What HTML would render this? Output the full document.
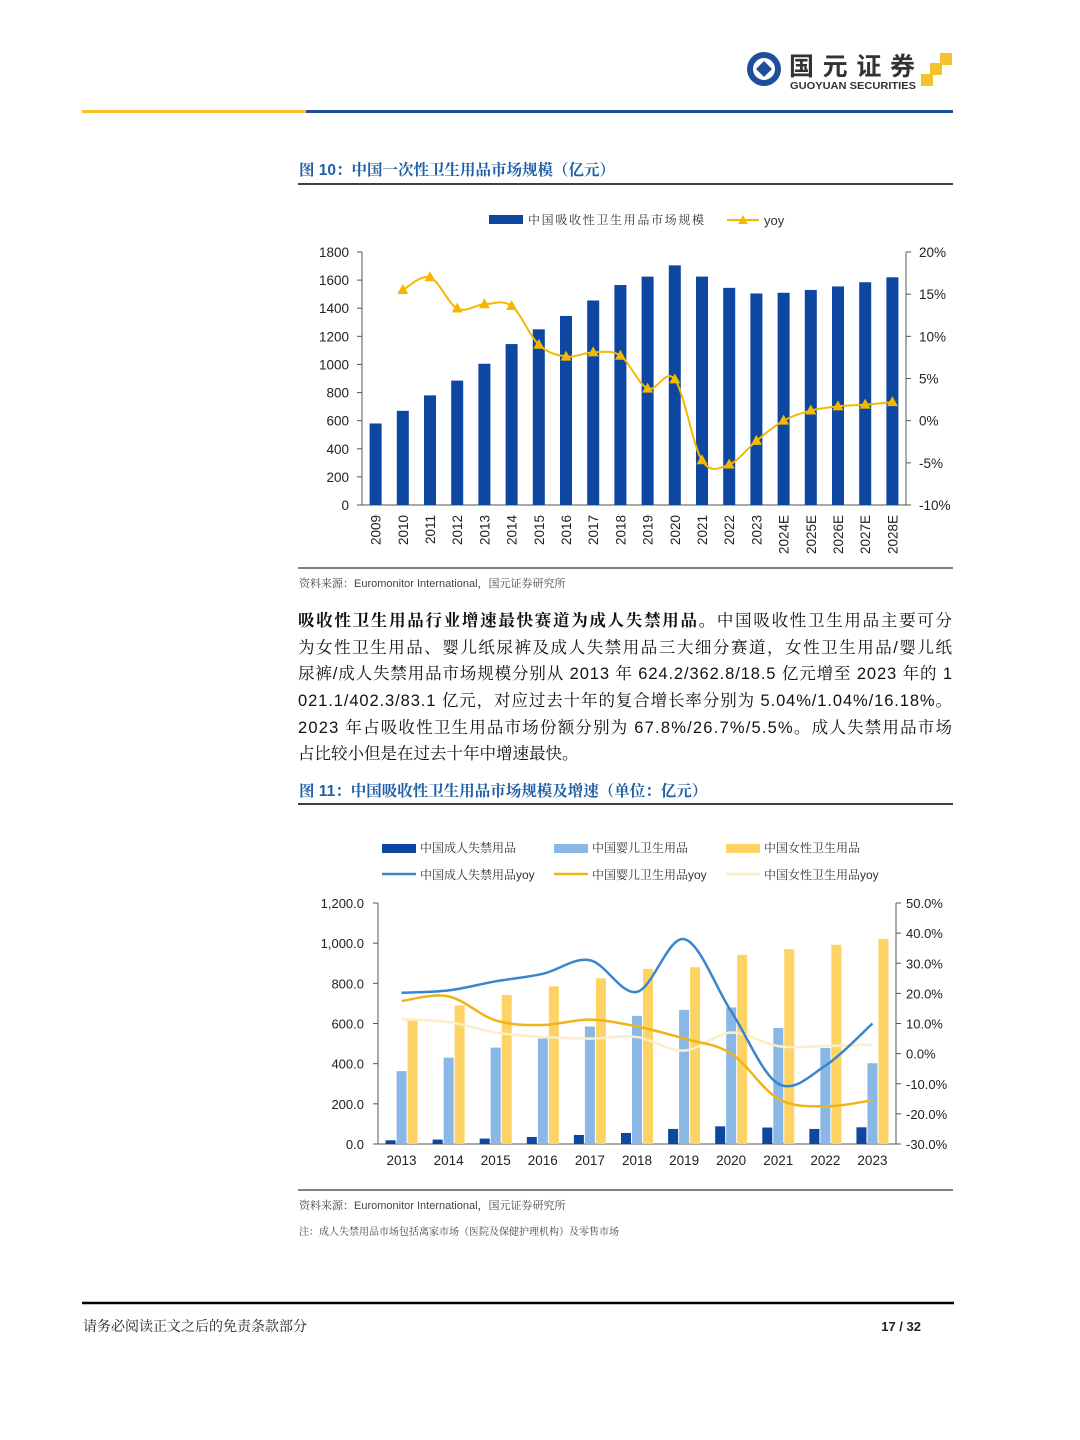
<!DOCTYPE html>
<html><head><meta charset="utf-8">
<style>
html,body{margin:0;padding:0;background:#fff;}
svg{display:block;font-family:"Liberation Sans","Noto Sans CJK SC",sans-serif;}
.cn{font-family:"Liberation Sans","Noto Serif CJK SC",serif;}
</style></head>
<body>
<svg id="s" width="1080" height="1440" viewBox="0 0 1080 1440" xmlns="http://www.w3.org/2000/svg">
  <g>
    <circle cx="764" cy="69" r="17" fill="#1f4e9c"/>
    <circle cx="764" cy="69" r="11" fill="#fff"/>
    <path d="M756 69 L764 61 L772 69 L764 77 Z" fill="#1f4e9c"/>
    <text x="789" y="75" font-size="25" font-weight="bold" fill="#333" font-family="Noto Sans CJK SC,sans-serif" textLength="126" lengthAdjust="spacing">国元证券</text>
    <text x="790" y="89" font-size="10.5" font-weight="bold" fill="#333" textLength="126" lengthAdjust="spacingAndGlyphs">GUOYUAN SECURITIES</text>
    <rect x="940" y="53" width="12" height="12" fill="#f5c22e"/>
    <rect x="930" y="63" width="12" height="12" fill="#f5c22e"/>
    <rect x="921" y="74" width="12" height="12" fill="#f5c22e"/>
  </g>
  <rect x="82" y="110" width="224" height="3" fill="#f5c22e"/>
  <rect x="306" y="110" width="647" height="3" fill="#1f4e9c"/>

  <text x="299" y="175" font-size="15.5" font-weight="bold" fill="#1f5fa6" class="cn">图 10：中国一次性卫生用品市场规模（亿元）</text>
  <line x1="298" y1="184" x2="953" y2="184" stroke="#000" stroke-width="1.5"/>
  <g id="c1"></g>
  <line x1="298" y1="568" x2="953" y2="568" stroke="#000" stroke-width="1"/>
  <text x="299" y="587" font-size="11" fill="#444" class="cn">资料来源：Euromonitor International，国元证券研究所</text>

  <g font-size="16.5" fill="#111" class="cn">
    <text x="298" y="626" textLength="654" lengthAdjust="spacing"><tspan font-weight="bold">吸收性卫生用品行业增速最快赛道为成人失禁用品。</tspan>中国吸收性卫生用品主要可分</text>
    <text x="298" y="653" textLength="654" lengthAdjust="spacing">为女性卫生用品、婴儿纸尿裤及成人失禁用品三大细分赛道，女性卫生用品/婴儿纸</text>
    <text x="298" y="679" textLength="654" lengthAdjust="spacing">尿裤/成人失禁用品市场规模分别从 2013 年 624.2/362.8/18.5 亿元增至 2023 年的 1</text>
    <text x="298" y="706" textLength="654" lengthAdjust="spacing">021.1/402.3/83.1 亿元，对应过去十年的复合增长率分别为 5.04%/1.04%/16.18%。</text>
    <text x="298" y="733" textLength="654" lengthAdjust="spacing">2023 年占吸收性卫生用品市场份额分别为 67.8%/26.7%/5.5%。成人失禁用品市场</text>
    <text x="298" y="759">占比较小但是在过去十年中增速最快。</text>
  </g>

  <text x="299" y="796" font-size="15.5" font-weight="bold" fill="#1f5fa6" class="cn">图 11：中国吸收性卫生用品市场规模及增速（单位：亿元）</text>
  <line x1="298" y1="804" x2="953" y2="804" stroke="#000" stroke-width="1.5"/>
  <g id="c2"></g>
  <line x1="298" y1="1190" x2="953" y2="1190" stroke="#000" stroke-width="1"/>
  <text x="299" y="1209" font-size="11" fill="#444" class="cn">资料来源：Euromonitor International，国元证券研究所</text>
  <text x="299" y="1235" font-size="10" fill="#444" class="cn">注：成人失禁用品市场包括离家市场（医院及保健护理机构）及零售市场</text>

  <line x1="82" y1="1303" x2="954" y2="1303" stroke="#000" stroke-width="2.5"/>
  <text x="83" y="1331" font-size="14" fill="#222" class="cn">请务必阅读正文之后的免责条款部分</text>
  <text x="921" y="1331" font-size="13" font-weight="bold" fill="#222" text-anchor="end">17 / 32</text>
</svg>
<script>
const c1Years = ["2009","2010","2011","2012","2013","2014","2015","2016","2017","2018","2019","2020","2021","2022","2023","2024E","2025E","2026E","2027E","2028E"];
const c1Market = [580,670,780,885,1005,1145,1250,1345,1455,1565,1625,1705,1625,1545,1505,1510,1530,1555,1585,1620];
const c1Yoy = [null,15.5,17.0,13.3,13.8,13.6,9.0,7.6,8.1,7.7,3.8,4.9,-4.7,-5.2,-2.4,0.0,1.2,1.7,1.9,2.2];
const c1LeftTicks = [0,200,400,600,800,1000,1200,1400,1600,1800];
const c1RightTicks = [-10,-5,0,5,10,15,20];

const c2Years = ["2013","2014","2015","2016","2017","2018","2019","2020","2021","2022","2023"];
const c2Adult = [18.5,22,27,35,45,55,75,88,82,75,83.1];
const c2Baby = [362.8,430,480,525,585,638,668,680,578,478,402.3];
const c2Female = [624.2,690,742,785,825,872,880,942,970,992,1021.1];
const c2AdultYoy = [20.2,21,24,26.5,31,20.5,38,14,-10,-4,10];
const c2BabyYoy = [17.5,19,11,9.5,11.3,9,5,0,-15,-17.5,-15.5];
const c2FemaleYoy = [11.5,10.5,7,5.5,5,5.5,1,7,2.5,2.5,3];
const c2LeftTicks = [0,200,400,600,800,1000,1200];
const c2RightTicks = [-30,-20,-10,0,10,20,30,40,50];

const NS="http://www.w3.org/2000/svg";
function mk(parent,tag,attrs,text){const e=document.createElementNS(NS,tag);for(const k in attrs)e.setAttribute(k,attrs[k]);if(text!==undefined)e.textContent=text;parent.appendChild(e);return e;}
function smooth(pts){let d="M"+pts[0][0]+" "+pts[0][1];for(let i=0;i<pts.length-1;i++){const p0=pts[i-1]||pts[i],p1=pts[i],p2=pts[i+1],p3=pts[i+2]||p2;const c1x=p1[0]+(p2[0]-p0[0])/6,c1y=p1[1]+(p2[1]-p0[1])/6,c2x=p2[0]-(p3[0]-p1[0])/6,c2y=p2[1]-(p3[1]-p1[1])/6;d+=" C"+c1x+" "+c1y+" "+c2x+" "+c2y+" "+p2[0]+" "+p2[1];}return d;}

(function(){
const g=document.getElementById('c1');
const L=362,R=906,T=252,B=505;
const band=(R-L)/c1Years.length;
const x=i=>L+band*(i+0.5);
const yL=v=>B-(v-0)/(1800-0)*(B-T);
const yR=v=>B-(v+10)/(30)*(B-T);
let e=mk(g,'rect',{x:489,y:215,width:34,height:9,fill:'#0d47a1'});

e=mk(g,'text',{x:528,y:224,'font-size':12,fill:'#333','class':'cn',textLength:176,lengthAdjust:'spacing'},'中国吸收性卫生用品市场规模');

mk(g,'line',{x1:727,y1:220,x2:759,y2:220,stroke:'#f5b800','stroke-width':2});
mk(g,'path',{d:'M743 215 L748 224 L738 224 Z',fill:'#f5b800'});
e=mk(g,'text',{x:764,y:225,'font-size':13,fill:'#333'},'yoy');

mk(g,'line',{x1:L,y1:T,x2:L,y2:B,stroke:'#555'});
mk(g,'line',{x1:R,y1:T,x2:R,y2:B,stroke:'#555'});
mk(g,'line',{x1:L,y1:B,x2:R,y2:B,stroke:'#555'});
c1LeftTicks.forEach(v=>{mk(g,'line',{x1:L-5,y1:yL(v),x2:L,y2:yL(v),stroke:'#555'});
 const t=mk(g,'text',{x:349,y:yL(v)+5,'font-size':13.5,'text-anchor':'end',fill:'#222'},String(v));
 });
c1RightTicks.forEach(v=>{mk(g,'line',{x1:R,y1:yR(v),x2:R+5,y2:yR(v),stroke:'#555'});
 const t=mk(g,'text',{x:919,y:yR(v)+5,'font-size':13.5,fill:'#222'},v+'%');
 });
c1Years.forEach((yr,i)=>{
 const b=mk(g,'rect',{x:x(i)-6,y:yL(c1Market[i]),width:12,height:B-yL(c1Market[i]),fill:'#0d47a1'});
 
 const t=mk(g,'text',{x:0,y:0,'font-size':13.5,fill:'#222','text-anchor':'end',transform:'translate('+(x(i)+5)+','+(B+10)+') rotate(-90)'},yr);
 
});
const pts=[];c1Yoy.forEach((v,i)=>{if(v!==null)pts.push([x(i),yR(v)]);});
const ln=mk(g,'path',{d:smooth(pts),fill:'none',stroke:'#f5b800','stroke-width':2});

pts.forEach(p=>{const m=mk(g,'path',{d:'M'+p[0]+' '+(p[1]-6)+' L'+(p[0]+5.5)+' '+(p[1]+4)+' L'+(p[0]-5.5)+' '+(p[1]+4)+' Z',fill:'#f5b800'});
 });
})();

(function(){
const g=document.getElementById('c2');
const L=378,R=896,T=903,B=1144;
const band=(R-L)/c2Years.length;
const x=i=>L+band*(i+0.5);
const yL=v=>B-v/1200*(B-T);
const yR=v=>B-(v+30)/80*(B-T);
const leg=[[382,842,'rect','#0d47a1','中国成人失禁用品'],[554,842,'rect','#8ab8e6','中国婴儿卫生用品'],[726,842,'rect','#fdd365','中国女性卫生用品'],
[382,874,'line','#3a86cc','中国成人失禁用品yoy'],[554,874,'line','#f0b419','中国婴儿卫生用品yoy'],[726,874,'line','#fbeec8','中国女性卫生用品yoy']];
leg.forEach(l=>{
 if(l[2]==='rect')mk(g,'rect',{x:l[0],y:l[1]+2,width:34,height:9,fill:l[3]});
 else mk(g,'line',{x1:l[0],y1:l[1],x2:l[0]+34,y2:l[1],stroke:l[3],'stroke-width':2.5});
 const t=mk(g,'text',{x:l[0]+38,y:l[1]+(l[2]==='rect'?10:5),'font-size':12,fill:'#333','class':'cn'},l[4]);
 
});
mk(g,'line',{x1:L,y1:T,x2:L,y2:B,stroke:'#555'});
mk(g,'line',{x1:R,y1:T,x2:R,y2:B,stroke:'#555'});
mk(g,'line',{x1:L,y1:B,x2:R,y2:B,stroke:'#555'});
c2LeftTicks.forEach(v=>{mk(g,'line',{x1:L-5,y1:yL(v),x2:L,y2:yL(v),stroke:'#555'});
 const t=mk(g,'text',{x:364,y:yL(v)+5,'font-size':13,'text-anchor':'end',fill:'#222'},v.toLocaleString('en-US',{minimumFractionDigits:1}));
 });
c2RightTicks.forEach(v=>{mk(g,'line',{x1:R,y1:yR(v),x2:R+5,y2:yR(v),stroke:'#555'});
 const t=mk(g,'text',{x:906,y:yR(v)+5,'font-size':13,fill:'#222'},v.toFixed(1)+'%');
 });
c2Years.forEach((yr,i)=>{
 const c=x(i);
 let b=mk(g,'rect',{x:c-16,y:yL(c2Adult[i]),width:10,height:B-yL(c2Adult[i]),fill:'#0d47a1'});
 
 b=mk(g,'rect',{x:c-5,y:yL(c2Baby[i]),width:10,height:B-yL(c2Baby[i]),fill:'#8ab8e6'});
 
 b=mk(g,'rect',{x:c+6,y:yL(c2Female[i]),width:10,height:B-yL(c2Female[i]),fill:'#fdd365'});
 
 const t=mk(g,'text',{x:c,y:1165,'font-size':13.5,'text-anchor':'middle',fill:'#222'},yr);
 
});
[[c2FemaleYoy,'#fbeec8','female-yoy-line'],[c2BabyYoy,'#f0b419','baby-yoy-line'],[c2AdultYoy,'#3a86cc','adult-yoy-line']].forEach(s=>{
 const pts=s[0].map((v,i)=>[x(i),yR(v)]);
 const p=mk(g,'path',{d:smooth(pts),fill:'none',stroke:s[1],'stroke-width':2.5});
 
});
})();
</script>
</body></html>
